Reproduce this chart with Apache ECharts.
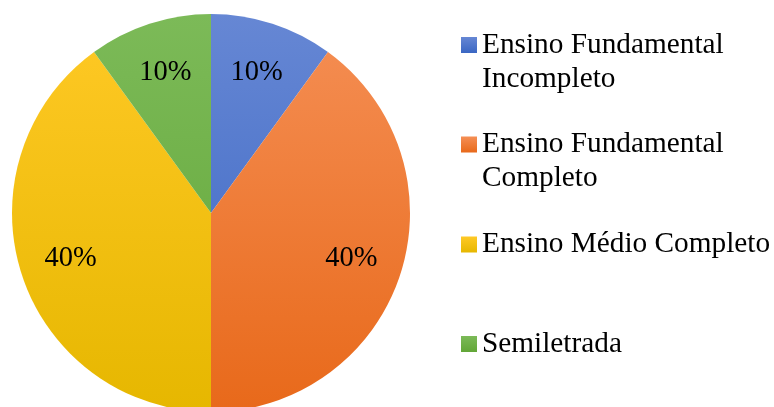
<!DOCTYPE html>
<html>
<head>
<meta charset="utf-8">
<script src="https://cdn.jsdelivr.net/npm/echarts@6/dist/echarts.min.js"></script>
<style>
  html, body { margin: 0; padding: 0; background: #fff; }
  #chart { width: 774px; height: 407px; }
</style>
</head>
<body>
<div id="chart"></div>
<script>
// Escolaridade dos entrevistados
const categories = [
  'Ensino Fundamental\nIncompleto',
  'Ensino Fundamental\nCompleto',
  'Ensino Médio Completo',
  'Semiletrada'
];
const shares = [10, 40, 40, 10];
const colorsTop = ['#6687d4', '#f58f55', '#ffc926', '#7cba58'];
const colorsBottom = ['#3a66c3', '#e8691a', '#e6b700', '#62a637'];

const FONT = "'Liberation Serif', 'Times New Roman', serif";
const CX = 211, CY = 213, R = 199;
const LABEL_RATIO = 1.44; // pushes the inside labels from 0.5R to ~0.72R

const chart = echarts.init(document.getElementById('chart'));

function sliceFill(i) {
  return new echarts.graphic.LinearGradient(0, CY - R, 0, CY + R, [
    { offset: 0, color: colorsTop[i] },
    { offset: 1, color: colorsBottom[i] }
  ], true);
}
function iconFill(i, h) {
  return new echarts.graphic.LinearGradient(0, 0, 0, h, [
    { offset: 0, color: colorsTop[i] },
    { offset: 1, color: colorsBottom[i] }
  ]);
}

// one legend block per category; for two-line names the marker is a square
// sitting at the top of a taller (invisible) box, so it stays level with
// the first line of text
const LINE = 34;
const SQ = 16;
const TALL = SQ + LINE;
const iconCenters = [45, 144.5, 244.5, 344];
const tallIcon = 'path://M0,0L' + SQ + ',0L' + SQ + ',' + SQ + 'L0,' + SQ + 'Z' +
  'M0,' + TALL + 'L' + SQ + ',' + TALL + 'L' + SQ + ',' + (TALL + 0.001) + 'L0,' + (TALL + 0.001) + 'Z';

const legends = categories.map((name, i) => {
  const twoLines = name.indexOf('\n') >= 0;
  return {
    orient: 'vertical',
    left: 461,
    top: iconCenters[i] - LINE / 2,
    padding: 0,
    itemWidth: SQ,
    itemHeight: twoLines ? TALL : SQ,
    symbolKeepAspect: false,
    selectedMode: false,
    textStyle: {
      fontFamily: FONT,
      fontSize: 29.3,
      lineHeight: LINE,
      color: '#000'
    },
    data: [{
      name: name,
      icon: twoLines ? tallIcon : 'rect',
      itemStyle: { color: iconFill(i, twoLines ? SQ / TALL : 1) }
    }]
  };
});

chart.setOption({
  animation: false,
  backgroundColor: '#fff',
  legend: legends,
  series: [{
    type: 'pie',
    center: [CX, CY],
    radius: [0, R],
    startAngle: 90,
    clockwise: true,
    avoidLabelOverlap: false,
    itemStyle: { borderWidth: 0 },
    label: {
      show: true,
      position: 'inside',
      formatter: '{c}%',
      fontFamily: FONT,
      fontSize: 28.5,
      color: '#000'
    },
    labelLine: { show: false },
    labelLayout: function (p) {
      const lx = p.labelRect.x + p.labelRect.width / 2;
      const ly = p.labelRect.y + p.labelRect.height / 2;
      return {
        x: CX + (lx - CX) * LABEL_RATIO,
        y: CY + (ly - CY) * LABEL_RATIO,
        align: 'center',
        verticalAlign: 'middle'
      };
    },
    emphasis: { disabled: true },
    data: categories.map((name, i) => ({
      name: name,
      value: shares[i],
      itemStyle: { color: sliceFill(i) }
    }))
  }]
});
</script>
</body>
</html>
